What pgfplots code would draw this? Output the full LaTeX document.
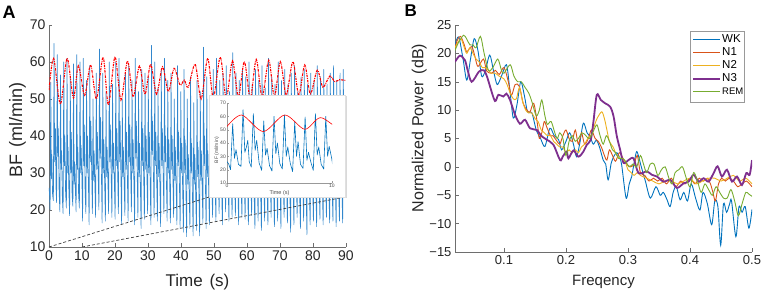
\documentclass[border=0pt]{standalone}
\usepackage{fontspec}
\setmainfont{Liberation Sans}
\usepackage{pgfplots}
\pgfplotsset{compat=1.18}
\usepackage{pgfplotstable}
\usetikzlibrary{shadows}
\definecolor{mblue}{RGB}{0,114,189}
\definecolor{ablue}{RGB}{50,135,205}
\definecolor{morange}{RGB}{217,83,25}
\definecolor{myellow}{RGB}{237,177,32}
\definecolor{mpurple}{RGB}{126,47,142}
\definecolor{mgreen}{RGB}{119,172,48}
\definecolor{axgray}{RGB}{110,110,110}

\pgfplotstableread[row sep=\\]{
t y\\
0 26\\ 0.15 24.5\\
0.34 20\\ 0.54 54.5\\ 0.71 28.5\\ 0.86 35\\ 1.09 24\\
1.33 22.5\\ 1.53 65\\ 1.70 33\\ 1.85 37\\ 1.98 42\\ 2.12 26\\
2.31 22\\ 2.51 62\\ 2.68 34.5\\ 2.83 42\\ 3.06 25\\
3.30 19.5\\ 3.50 56.5\\ 3.67 31\\ 3.82 36\\ 4.05 23\\
4.28 19\\ 4.48 60\\ 4.65 32\\ 4.80 40\\ 5.03 24.5\\
5.27 20.5\\ 5.47 61\\ 5.64 30\\ 5.79 37\\ 6.02 25\\
6.25 18.5\\ 6.45 56\\ 6.62 30\\ 6.77 41\\ 7.00 24\\
7.24 21\\ 7.44 59.5\\ 7.61 27\\ 7.76 33\\ 7.99 25.5\\
8.22 19.5\\ 8.42 62\\ 8.59 31\\ 8.74 37\\ 8.97 24\\
9.21 20.5\\ 9.41 60\\ 9.58 30\\ 9.73 37.5\\ 9.96 29\\
10.19 17\\ 10.39 61\\ 10.56 32\\ 10.71 43\\ 10.94 25\\
11.18 19\\ 11.38 55\\ 11.55 30\\ 11.70 40\\
12.16 16\\ 12.36 59\\ 12.53 33\\ 12.68 44\\
13.15 19\\ 13.35 50\\ 13.52 28\\ 13.67 36\\
14.13 18\\ 14.33 57\\ 14.50 31\\ 14.65 41\\
15.12 20\\ 15.32 63.5\\ 15.49 34\\ 15.64 45\\
16.10 16.5\\ 16.30 57\\ 16.47 30\\ 16.62 39\\
17.09 17\\ 17.29 52\\ 17.46 29\\ 17.61 37\\
18.07 19\\ 18.27 60\\ 18.44 33\\ 18.59 43\\
19.06 18\\ 19.26 54\\ 19.43 30\\ 19.58 38\\
20.04 17.5\\ 20.24 60\\ 20.41 32\\ 20.56 42\\
21.03 19\\ 21.23 61\\ 21.40 33\\ 21.55 44\\
22.01 16\\ 22.21 50\\ 22.38 29\\ 22.53 37\\
23.00 18.5\\ 23.20 57\\ 23.37 31\\ 23.52 41\\
23.98 17\\ 24.18 59\\ 24.35 33\\ 24.50 43\\
24.97 19.5\\ 25.17 55\\ 25.34 30\\ 25.49 39\\
25.95 16\\ 26.15 61\\ 26.32 34\\ 26.47 44\\
26.94 18\\ 27.14 52\\ 27.31 29\\ 27.46 38\\
27.92 15\\ 28.12 58\\ 28.29 32\\ 28.44 42\\
28.91 17.5\\ 29.11 57\\ 29.28 31\\ 29.43 40\\
29.89 19\\ 30.09 56\\ 30.26 30\\ 30.41 41\\
30.88 16\\ 31.08 64.5\\ 31.25 35\\ 31.40 44\\
31.86 18\\ 32.06 60\\ 32.23 32\\ 32.38 41\\
32.85 17\\ 33.05 53\\ 33.22 29\\ 33.37 38\\
33.83 15.5\\ 34.03 58\\ 34.20 32\\ 34.35 42\\
34.82 19\\ 35.02 61\\ 35.19 33\\ 35.34 40\\
35.80 17\\ 36.00 55\\ 36.17 30\\ 36.32 39\\
36.79 16.5\\ 36.99 57\\ 37.16 31\\ 37.31 40\\
37.77 18\\ 37.97 50\\ 38.14 28\\ 38.29 37\\
38.76 16\\ 38.96 59\\ 39.13 32\\ 39.28 41\\
39.74 15\\ 39.94 52\\ 40.11 30\\ 40.26 38\\
40.73 14\\ 40.93 58\\ 41.10 30\\ 41.25 39\\
41.71 12.8\\ 41.91 50\\ 42.08 27\\ 42.23 35\\
42.70 15\\ 42.90 56\\ 43.07 30\\ 43.22 38\\
43.68 13\\ 43.88 49\\ 44.05 27\\ 44.20 35\\
44.67 14.5\\ 44.87 55\\ 45.04 29\\ 45.19 37\\
45.65 13\\ 45.85 52\\ 46.02 28\\ 46.17 36\\
46.64 16.5\\ 46.84 64\\ 47.01 32\\ 47.16 40\\
47.62 15\\ 47.82 56\\ 47.99 29\\ 48.14 36\\
48.61 16\\ 48.81 50\\ 48.98 27\\ 49.13 34\\
49.59 18\\ 49.79 58\\ 49.96 30\\ 50.11 37\\
50.58 17\\ 50.78 61\\ 50.95 31\\ 51.10 37\\
51.56 19\\ 51.76 55\\ 51.93 29\\ 52.08 35\\
52.55 16\\ 52.75 57\\ 52.92 30\\ 53.07 36\\
53.53 19.5\\ 53.73 59\\ 53.90 31\\ 54.05 37\\
54.52 17\\ 54.72 52\\ 54.89 28\\ 55.04 34\\
55.50 18\\ 55.70 62.5\\ 55.87 32\\ 56.02 38\\
56.49 18.5\\ 56.69 57\\ 56.86 30\\ 57.01 36\\
57.47 16\\ 57.67 55\\ 57.84 29\\ 57.99 35\\
58.46 18\\ 58.66 58\\ 58.83 30\\ 58.98 37\\
59.44 17.5\\ 59.64 56\\ 59.81 29\\ 59.96 35\\
60.43 16\\ 60.63 60\\ 60.80 31\\ 60.95 37\\
61.41 18.5\\ 61.61 54\\ 61.78 28\\ 61.93 34\\
62.40 15\\ 62.60 58\\ 62.77 30\\ 62.92 36\\
63.38 17\\ 63.58 55\\ 63.75 29\\ 63.90 35\\
64.37 14.5\\ 64.57 59\\ 64.74 31\\ 64.89 37\\
65.35 17\\ 65.55 53\\ 65.72 28\\ 65.87 34\\
66.34 16\\ 66.54 61\\ 66.71 31\\ 66.86 37\\
67.32 18\\ 67.52 56\\ 67.69 29\\ 67.84 35\\
68.31 15.5\\ 68.51 54\\ 68.68 28\\ 68.83 34\\
69.29 17\\ 69.49 60\\ 69.66 31\\ 69.81 37\\
70.28 15\\ 70.48 55\\ 70.65 28\\ 70.80 34\\
71.26 18\\ 71.46 58\\ 71.63 30\\ 71.78 36\\
72.25 16.5\\ 72.45 54\\ 72.62 28\\ 72.77 34\\
73.23 14\\ 73.43 57\\ 73.60 30\\ 73.75 36\\
74.22 16\\ 74.42 59\\ 74.59 31\\ 74.74 37\\
75.20 18\\ 75.40 52\\ 75.57 27\\ 75.72 33\\
76.19 15\\ 76.39 56\\ 76.56 29\\ 76.71 35\\
77.17 17\\ 77.37 58\\ 77.54 30\\ 77.69 36\\
78.16 13.3\\ 78.36 54\\ 78.53 28\\ 78.68 34\\
79.14 16\\ 79.34 57\\ 79.51 30\\ 79.66 36\\
80.13 17\\ 80.33 55\\ 80.50 29\\ 80.65 35\\
81.11 15.5\\ 81.31 59\\ 81.48 30\\ 81.63 36\\
82.10 17.5\\ 82.30 56\\ 82.47 29\\ 82.62 35\\
83.08 16\\ 83.28 58\\ 83.45 30\\ 83.60 36\\
84.07 18\\ 84.27 54\\ 84.44 28\\ 84.59 34\\
85.05 16.5\\ 85.25 57\\ 85.42 29\\ 85.57 35\\
86.04 17\\ 86.24 59\\ 86.41 30\\ 86.56 36\\
87.02 15.5\\ 87.22 55\\ 87.39 28\\ 87.54 34\\
88.01 17\\ 88.21 57\\ 88.38 29\\ 88.53 35\\
88.99 16.5\\ 89.19 58\\ 89.36 30\\ 89.51 36\\
89.70 24\\
}\bfdata

\pgfplotstableread[row sep=\\]{
t y\\
0 52.4\\ 1.4 61\\ 3.45 48.6\\ 5.5 61\\ 7.4 50.3\\ 8.9 59\\ 10.8 51\\ 12.6 59.2\\
14.4 50\\ 16.4 61.3\\ 18 48.4\\ 20 61.4\\ 21.8 49.7\\ 23.8 60.3\\ 25.5 50.6\\
27.4 58.9\\ 29.1 51.3\\ 30.8 59.4\\ 32.6 51.3\\ 34.4 58.7\\ 36.2 52\\ 37.9 58.3\\
39.7 53.8\\ 41 55.1\\ 42.2 53.2\\ 44.3 59.4\\ 46.1 50\\ 48.1 61\\ 49.8 50.2\\
51.9 61.3\\ 53.7 50.2\\ 55.6 60.3\\ 57.4 50.6\\ 59.2 60.1\\ 61 50.2\\ 62.8 60.7\\
64.6 50.6\\ 66.6 60.5\\ 68.3 50.6\\ 70.1 60.1\\ 71.9 51.1\\ 73.9 60.1\\ 75.7 51.1\\
77.5 59.2\\ 79.2 51.4\\ 81.3 57.8\\ 83 53.2\\ 85.1 56.2\\ 86.6 54.7\\ 88 55.2\\ 90 55\\
}\reddata

\begin{document}
\begin{tikzpicture}
\useasboundingbox (0,0) rectangle (761pt,-291pt);

\node[font=\bfseries\fontsize{18}{18}\selectfont, anchor=base west, inner sep=0pt] at (2.5pt,-18.3pt) {A};
\node[font=\bfseries\fontsize{17}{17}\selectfont, anchor=base west, inner sep=0pt] at (404.5pt,-16.7pt) {B};

% ---------- Panel A ----------
\begin{axis}[
  at={(49pt,-247pt)}, anchor=south west, scale only axis,
  width=297pt, height=222pt,
  xmin=0, xmax=90, ymin=10, ymax=70,
  axis lines*=left, axis line style={-, draw=axgray, line width=0.6pt},
  tick align=inside, major tick length=3.5pt, tick style={axgray, line width=0.5pt},
  xtick={0,10,20,30,40,50,60,70,80,90}, xticklabels={0,10,20,30,40,50,60,70,80,90},
  ytick={10,20,30,40,50,60,70}, yticklabels={10,20,30,40,50,60,70},
  ticklabel style={font=\fontsize{14}{14}\selectfont, text=black!85},
  xlabel={Time\hspace{2pt} (s)}, ylabel={BF\hspace{2pt} (ml/min)},
  xlabel style={at={(axis description cs:0.5,-0.1757)}, anchor=base, font=\fontsize{17}{17}\selectfont, text=black!85},
  ylabel style={at={(axis description cs:-0.0909,0.527)}, anchor=base, font=\fontsize{18}{18}\selectfont, text=black!85},
]
\addplot[draw=ablue, line width=0.65pt, line join=round] table[x=t,y=y]{\bfdata};
\addplot[draw=red, line width=1.1pt, smooth, dash pattern=on 2.5pt off 1pt on 0.8pt off 1pt] table[x=t,y=y]{\reddata};
\addplot[draw=black!75, line width=0.7pt, dash pattern=on 3pt off 2pt] coordinates {(0,10) (48.5,23.5)};
\addplot[draw=black!75, line width=0.7pt, dash pattern=on 3pt off 2pt] coordinates {(10,10) (89.7,23.5)};
\end{axis}

% inset box
\fill[white, draw=black!12, drop shadow={shadow xshift=1.5pt, shadow yshift=-1.5pt, opacity=0.3}] (209pt,-95pt) rectangle (345pt,-197pt);

\begin{axis}[
  at={(227pt,-183pt)}, anchor=south west, scale only axis,
  width=105pt, height=80pt,
  xmin=0, xmax=10, ymin=10, ymax=70,
  axis lines*=left, axis line style={-, draw=axgray!70, line width=0.4pt},
  tick align=inside, major tick length=1.5pt, tick style={axgray!70, line width=0.3pt},
  xtick={0,10}, xticklabels={0,10},
  ytick={10,20,30,40,50,60,70}, yticklabels={10,20,30,40,50,60,70},
  ticklabel style={font=\fontsize{5}{5}\selectfont, text=black!70, inner sep=1pt},
  xlabel={Time (s)}, ylabel={BF (ml/min)},
  xlabel style={at={(axis description cs:0.5,-0.15)}, anchor=base, font=\fontsize{5.5}{5.5}\selectfont, text=black!70},
  ylabel style={at={(axis description cs:-0.085,0.41)}, anchor=base, font=\fontsize{5}{5}\selectfont, text=black!70},
]
\addplot[draw=mblue, line width=0.6pt, line join=round] table[x=t,y=y]{\bfdata};
\addplot[draw=red, line width=0.6pt, smooth] table[x=t,y=y]{\reddata};
\end{axis}

% ---------- Panel B ----------
\begin{axis}[
  at={(455pt,-252pt)}, anchor=south west, scale only axis,
  width=297pt, height=227pt,
  xmin=0.021, xmax=0.5, ymin=-15, ymax=25,
  axis lines*=left, axis line style={-, draw=axgray, line width=0.6pt},
  tick align=inside, major tick length=3.5pt, tick style={axgray, line width=0.5pt},
  xtick={0.1,0.2,0.3,0.4,0.5}, xticklabels={0.1,0.2,0.3,0.4,0.5},
  ytick={-15,-10,-5,0,5,10,15,20,25}, yticklabels={−15,−10,−5,0,5,10,15,20,25},
  ticklabel style={font=\fontsize{13}{13}\selectfont, text=black!85},
  xlabel={Freqency}, ylabel={Normalized Power\hspace{3pt} (dB)},
  xlabel style={at={(axis description cs:0.5,-0.1454)}, anchor=base, font=\fontsize{15}{15}\selectfont, text=black!85},
  ylabel style={at={(axis description cs:-0.1067,0.546)}, anchor=base, font=\fontsize{16}{16}\selectfont, text=black!85},
  legend style={at={(0.7936,0.9705)}, anchor=north west, draw=none, fill=white,
    font=\fontsize{11.5}{12}\selectfont, inner sep=1.5pt, row sep=0pt,
    nodes={inner sep=1pt, text height=8.5pt, text depth=2.5pt}},
  legend cell align=left,
  legend image code/.code={\draw[#1, line cap=butt] (0pt,0pt) -- (27pt,0pt);},
]
\addplot[draw=mblue, line width=0.9pt, smooth] coordinates {
(0.021,21.5) (0.027,22.9) (0.034,19) (0.040,15.3) (0.046,19) (0.052,22.6) (0.058,20.5)
(0.064,16) (0.070,17) (0.077,19.7) (0.083,17) (0.089,14.5) (0.096,16) (0.104,18)
(0.109,14) (0.115,8.6) (0.121,11) (0.127,15) (0.133,12.5) (0.138,9.7) (0.145,9.5)
(0.152,6.5) (0.159,5) (0.166,3.6) (0.174,6.8) (0.181,5.5) (0.188,4.8) (0.193,3)
(0.200,4.5) (0.206,6) (0.212,4) (0.217,1.8) (0.222,4) (0.228,7.7) (0.234,6)
(0.239,5.3) (0.244,4) (0.249,4.7) (0.254,3.5) (0.260,1.2) (0.264,0.5) (0.268,-2.3)
(0.273,0.7) (0.278,2) (0.282,2.5) (0.287,1.5) (0.290,0.2) (0.297,-5.5) (0.302,-3)
(0.306,-1.7) (0.310,0.8) (0.314,2.7) (0.318,1.5) (0.321,0.2) (0.328,-2.5) (0.336,-5.5)
(0.345,-3.5) (0.352,-5) (0.357,-4.5) (0.363,-5.8) (0.368,-7) (0.373,-4.4) (0.378,-3.5)
(0.384,-5.8) (0.390,-4.5) (0.396,-6) (0.402,-3) (0.409,-5.5) (0.416,-7.6) (0.421,-4.5)
(0.428,-6.5) (0.435,-10.2) (0.440,-6) (0.445,-7) (0.4495,-13.8) (0.454,-6.5) (0.459,-8)
(0.464,-6.5) (0.467,-6) (0.474,-12.3) (0.479,-7) (0.484,-8) (0.489,-7) (0.495,-10.8) (0.500,-7.5)};
\addlegendentry{WK}
\addplot[draw=morange, line width=0.9pt, smooth] coordinates {
(0.021,21) (0.025,22.4) (0.030,23) (0.036,21.5) (0.040,20.3) (0.048,21.2) (0.053,19.5)
(0.058,17.7) (0.067,19) (0.072,16.9) (0.080,16.5) (0.086,17) (0.0925,16.3) (0.100,17.5)
(0.107,15) (0.112,12.6) (0.118,14.5) (0.1247,14.2) (0.131,11.2) (0.137,10) (0.142,9.7)
(0.148,11.2) (0.154,7.5) (0.157,5) (0.161,6) (0.165,8) (0.169,7) (0.175,5.5) (0.179,5.5)
(0.185,4.6) (0.190,4) (0.195,5.5) (0.200,6.5) (0.205,5) (0.210,4.5) (0.215,6.5) (0.220,4)
(0.225,6) (0.230,4) (0.236,5) (0.241,6.5) (0.247,5) (0.252,4.5) (0.257,3.5) (0.262,2)
(0.266,1.2) (0.270,3) (0.275,2) (0.280,1) (0.286,2.5) (0.292,1.5) (0.298,0.5) (0.304,0)
(0.310,0.5) (0.315,2) (0.320,-1) (0.327,-1.5) (0.334,-2.5) (0.341,-2) (0.348,-2.5)
(0.355,-2) (0.362,-3) (0.370,-2) (0.377,-3.5) (0.385,-2.5) (0.392,-3) (0.400,-2)
(0.408,-3) (0.415,-2) (0.422,-2.5) (0.428,-2) (0.433,-3) (0.437,-4.5) (0.441,-6)
(0.446,-3) (0.451,-2) (0.457,-2.5) (0.463,-2) (0.470,-2.5) (0.477,-3.5) (0.484,-3)
(0.491,-2.5) (0.500,-3.5)};
\addlegendentry{N1}
\addplot[draw=myellow, line width=0.9pt, smooth] coordinates {
(0.021,21) (0.026,22) (0.031,22.5) (0.036,21) (0.040,20) (0.045,21) (0.050,20) (0.055,19)
(0.060,18.5) (0.065,17.5) (0.070,17.5) (0.075,17) (0.080,16.5) (0.086,16.5) (0.092,16)
(0.100,15.5) (0.105,14.5) (0.110,13) (0.115,12) (0.120,12) (0.125,14) (0.130,11.5)
(0.135,10) (0.140,9.5) (0.145,9.5) (0.150,8.5) (0.155,8) (0.160,6.5) (0.165,6) (0.170,5.5)
(0.175,5.5) (0.180,4.5) (0.185,4) (0.190,3.5) (0.195,3.5) (0.200,2.5) (0.205,3) (0.210,2.5)
(0.215,3) (0.220,2.5) (0.225,3.5) (0.230,4) (0.235,5) (0.240,5.5) (0.245,7) (0.250,8.5)
(0.2576,9.7) (0.262,8.5) (0.266,6.5) (0.270,4.5) (0.276,3.5) (0.282,2) (0.288,1.5)
(0.295,1) (0.300,-0.5) (0.305,-1) (0.310,-1.5) (0.315,-1) (0.320,-1.5) (0.330,-2)
(0.340,-2.5) (0.350,-3) (0.360,-2.5) (0.370,-2.5) (0.380,-3) (0.390,-2.5) (0.400,-2)
(0.410,-3) (0.420,-2.5) (0.430,-2) (0.440,-2) (0.450,-2.5) (0.460,-2) (0.470,-1.5)
(0.480,-2.5) (0.490,-2) (0.500,-3)};
\addlegendentry{N2}
\addplot[draw=mpurple, line width=1.8pt, smooth] coordinates {
(0.021,18.5) (0.0289,19.6) (0.037,18.8) (0.0408,17.3) (0.0478,15) (0.0597,16.8)
(0.0677,17) (0.073,15.8) (0.0774,14.2) (0.0855,11.6) (0.091,12.7) (0.099,12.4) (0.104,12.9)
(0.1097,11.8) (0.1178,9.2) (0.1258,7.6) (0.1339,8.3) (0.1420,6.8) (0.1528,6.5)
(0.1608,5.4) (0.1689,4.8) (0.1797,3.9) (0.1904,1.2) (0.1947,1.8) (0.2012,2.7) (0.2039,1.5)
(0.2120,2.9) (0.2200,1.8) (0.2281,2.7) (0.2335,3.9) (0.2400,4.8) (0.2443,8) (0.2497,12.7)
(0.2562,11.8) (0.2632,11.2) (0.2713,10.6) (0.2767,8.9) (0.2820,5.4) (0.2874,3) (0.2928,0.7)
(0.3008,1.2) (0.3089,1.5) (0.3170,-1.1) (0.3304,-0.8) (0.3385,-1.4) (0.3466,-1.7)
(0.3573,-2.6) (0.3681,-2.3) (0.3789,-3.7) (0.3896,-2.9) (0.3977,-2.6) (0.4058,-1.4)
(0.4139,-2.6) (0.4219,-2) (0.4300,-2.6) (0.4381,-1.1) (0.4445,0.1) (0.4515,-1.7)
(0.4596,-0.5) (0.4677,-2.6) (0.4758,-1.7) (0.4838,-3.2) (0.4908,-1.1) (0.4962,-1.4) (0.5000,1.2)};
\addlegendentry{N3}
\addplot[draw=mgreen, line width=0.9pt, smooth] coordinates {
(0.021,20.5) (0.027,22) (0.035,23.2) (0.040,22.5) (0.045,21.5) (0.050,21.5) (0.055,21)
(0.062,23) (0.068,20) (0.075,17) (0.082,17.5) (0.090,19) (0.096,17) (0.100,16.5)
(0.110,18) (0.116,16) (0.122,15) (0.128,15) (0.134,14) (0.140,13) (0.145,11.5) (0.152,9)
(0.157,10) (0.161,11.8) (0.166,9) (0.170,7.5) (0.176,8) (0.182,6) (0.186,5) (0.190,6)
(0.195,5) (0.200,2) (0.205,4.5) (0.210,5.5) (0.215,4.5) (0.220,5) (0.226,6) (0.232,5.5)
(0.238,5) (0.245,6.5) (0.250,7.4) (0.255,5.5) (0.260,4) (0.265,5.5) (0.270,4.5) (0.275,3)
(0.280,2.5) (0.285,1.5) (0.291,1.5) (0.296,1) (0.302,0) (0.308,0.5) (0.314,0) (0.320,2)
(0.325,0.5) (0.330,-1) (0.336,0.5) (0.342,0.5) (0.348,-1.5) (0.354,-0.5) (0.360,0)
(0.366,-2) (0.371,-3) (0.376,-1) (0.382,-0.5) (0.388,0) (0.394,-2) (0.400,-3.5)
(0.406,-1) (0.412,-2.5) (0.418,-4.5) (0.424,-3) (0.430,-4) (0.436,-5) (0.442,-3.5)
(0.448,-4.5) (0.454,-5.5) (0.460,-5.5) (0.466,-4) (0.472,-6) (0.478,-8.6) (0.484,-6.5)
(0.490,-4.5) (0.495,-4.8) (0.500,-5.2)};
\addlegendentry{\fontsize{9.5}{10}\selectfont REM}
\end{axis}
\draw[black!40, line width=0.5pt] (690.7pt,-31.7pt) rectangle (744pt,-102.7pt);
\end{tikzpicture}
\end{document}
